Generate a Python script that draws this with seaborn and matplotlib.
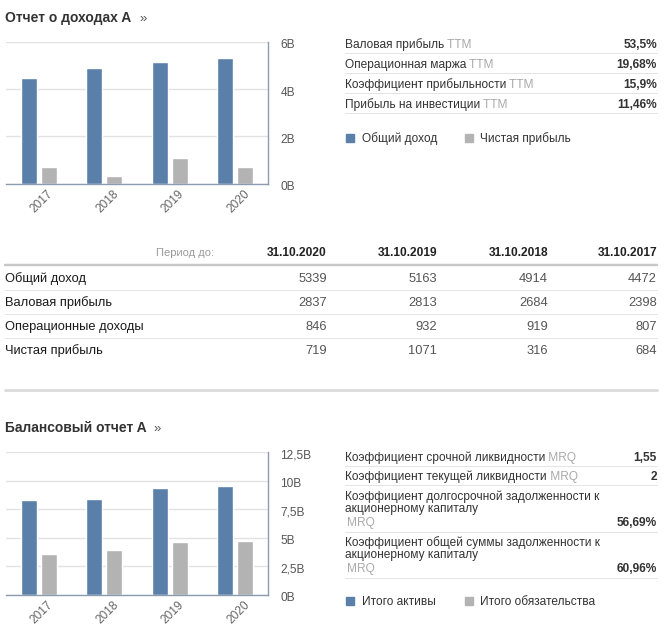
import matplotlib
matplotlib.use("Agg")
import matplotlib.pyplot as plt
from matplotlib.lines import Line2D
from matplotlib.patches import Rectangle
import matplotlib.transforms as mtransforms
import seaborn as sns
import pandas as pd

# ---------------- data ----------------
years = ["2017", "2018", "2019", "2020"]
total_revenue = [4472, 4914, 5163, 5339]          # millions
net_income = [684, 316, 1071, 719]
total_assets = [8300, 8390, 9360, 9560]
total_liabilities = [3550, 3930, 4630, 4720]

income_series = ["Общий доход", "Чистая прибыль"]
balance_series = ["Итого активы", "Итого обязательства"]

income_ticks = [0, 2000, 4000, 6000]
income_tick_labels = ["0B", "2B", "4B", "6B"]
balance_ticks = [0, 2500, 5000, 7500, 10000, 12500]
balance_tick_labels = ["0B", "2,5B", "5B", "7,5B", "10B", "12,5B"]

income_ratio_names = ["Валовая прибыль", "Операционная маржа",
                      "Коэффициент прибыльности", "Прибыль на инвестиции"]
income_ratio_values = ["53,5%", "19,68%", "15,9%", "11,46%"]

balance_ratio_names = [
    ["Коэффициент срочной ликвидности"],
    ["Коэффициент текущей ликвидности"],
    ["Коэффициент долгосрочной задолженности к", "акционерному капиталу"],
    ["Коэффициент общей суммы задолженности к", "акционерному капиталу"],
]
balance_ratio_values = ["1,55", "2", "56,69%", "60,96%"]

periods = ["31.10.2020", "31.10.2019", "31.10.2018", "31.10.2017"]
table_rows = ["Общий доход", "Валовая прибыль", "Операционные доходы", "Чистая прибыль"]
table_values = [
    [5339, 5163, 4914, 4472],
    [2837, 2813, 2684, 2398],
    [846, 932, 919, 807],
    [719, 1071, 316, 684],
]

# ---------------- style ----------------
BLUE = "#5a80aa"
GRAY = "#b3b3b3"
DARK = "#333333"
AXIS = "#8c9bb0"
GRID = "#e2e2e2"
FS = 8.6
TFS = 9.3

sns.set_theme(style="white")
plt.rcParams["font.family"] = ["Liberation Sans", "DejaVu Sans"]

W, H = 671, 641
fig = plt.figure(figsize=(W / 100, H / 100), dpi=100)
fig.patch.set_facecolor("white")


def fx(x):
    return x / W


def fy(y):
    return 1 - y / H


def txt(x, y, s, **kw):
    kw.setdefault("va", "baseline")
    kw.setdefault("color", DARK)
    kw.setdefault("fontsize", FS)
    return fig.text(fx(x), fy(y), s, **kw)


def hline(x0, x1, y, color="#e4e4e4", lw=1.0):
    fig.add_artist(Line2D([fx(x0), fx(x1)], [fy(y), fy(y)],
                          transform=fig.transFigure, color=color, lw=lw * 0.72))


renderer = fig.canvas.get_renderer()


def txt_suffix(x, y, s, suffix, **kw):
    t = txt(x, y, s, **kw)
    bb = t.get_window_extent(renderer)
    fig.text(bb.x1 / fig.bbox.width, fy(y), suffix, va="baseline",
             color="#aaaaaa", fontsize=kw.get("fontsize", FS))
    return t


def make_chart(top, bottom, a, b, series, ticks, tick_labels, ymax):
    ax = fig.add_axes([fx(6), fy(bottom), fx(268) - fx(6), fy(top) - fy(bottom)])
    df = pd.DataFrame({
        "year": years * 2,
        "value": list(a) + list(b),
        "series": [series[0]] * len(years) + [series[1]] * len(years),
    })
    sns.barplot(data=df, x="year", y="value", hue="series", hue_order=series,
                palette=[BLUE, GRAY], width=0.61, gap=0.2, ax=ax,
                saturation=1, legend=False, errorbar=None)
    ax.set_xlim(-0.5, 3.5)
    ax.set_ylim(0, ymax)
    ax.set_xlabel("")
    ax.set_ylabel("")
    ax.yaxis.tick_right()
    ax.set_yticks(ticks)
    ax.set_yticklabels(tick_labels, fontsize=8.6, color="#555555")
    ax.tick_params(axis="y", length=0, pad=9)
    yoff = mtransforms.ScaledTranslation(0, -2 / 100, fig.dpi_scale_trans)
    for lab in ax.get_yticklabels():
        lab.set_transform(lab.get_transform() + yoff)
    ax.set_axisbelow(True)
    ax.grid(axis="y", color=GRID, lw=1)
    for s in ["left", "top"]:
        ax.spines[s].set_visible(False)
    for s in ["right", "bottom"]:
        ax.spines[s].set_color(AXIS)
        ax.spines[s].set_linewidth(1)
    ax.set_xticks(range(len(years)))
    ax.set_xticklabels(years, rotation=45, ha="center", fontsize=8.6, color="#666666")
    ax.tick_params(axis="x", which="major", length=0, pad=3)
    ax.set_xticks([0.5, 1.5, 2.5, 3.5], minor=True)
    ax.tick_params(axis="x", which="minor", length=5, color=AXIS, direction="out", width=1)
    offset = mtransforms.ScaledTranslation(3 / 100, 0, fig.dpi_scale_trans)
    for lab in ax.get_xticklabels():
        lab.set_transform(lab.get_transform() + offset)
    ax.patch.set_alpha(0)
    return ax


# ---------------- income section ----------------
txt(5, 22, "Отчет о доходах A", fontsize=10, fontweight="bold")
txt(140, 22, "»", fontsize=9.5, color="#555555")

make_chart(42, 183.5, total_revenue, net_income, income_series,
           income_ticks, income_tick_labels, 6000)

row_y = [48, 68, 88, 108]
div_y = [52.5, 73, 93, 113]
for name, val, y, d in zip(income_ratio_names, income_ratio_values, row_y, div_y):
    txt_suffix(345, y, name, " TTM")
    txt(657, y, val, ha="right", fontweight="bold")
    hline(345, 657, d)

# legend
fig.add_artist(Rectangle((fx(346), fy(142)), fx(8), 8 / H, transform=fig.transFigure,
                         color=BLUE))
txt(362, 142, income_series[0])
fig.add_artist(Rectangle((fx(465), fy(142)), fx(8), 8 / H, transform=fig.transFigure,
                         color=GRAY))
txt(480, 142, income_series[1])

# ---------------- table ----------------
col_right = [327, 437, 548, 657]
txt(214, 256, "Период до:", ha="right", color="#999999", fontsize=8)
for p, x in zip(periods, col_right):
    txt(x, 256, p, ha="right", fontweight="bold", color="#222222")
hline(5, 657, 265, color="#c8c8c8", lw=2.5)
tr_y = [282, 306, 330, 354]
tr_div = [290, 314, 338]
for i, (name, vals, y) in enumerate(zip(table_rows, table_values, tr_y)):
    txt(5, y, name, color="#1a1a1a", fontsize=TFS)
    for v, x in zip(vals, col_right):
        txt(x, y, str(v), ha="right", color="#555555", fontsize=TFS)
    if i < len(tr_div):
        hline(5, 657, tr_div[i])
hline(5, 657, 390, color="#dddddd", lw=3)

# ---------------- balance section ----------------
txt(5, 432, "Балансовый отчет A", fontsize=10, fontweight="bold")
txt(153, 432, "»", fontsize=9.5, color="#555555")

make_chart(452, 594.5, total_assets, total_liabilities, balance_series,
           balance_ticks, balance_tick_labels, 12500)

# balance ratio table
b_first = [461, 480, 500, 546]
b_div = [466, 485, 532, 578]
for lines, val, y0, d in zip(balance_ratio_names, balance_ratio_values, b_first, b_div):
    if len(lines) == 1:
        txt_suffix(345, y0, lines[0], " MRQ")
        txt(657, y0, val, ha="right", fontweight="bold")
    else:
        txt(345, y0, lines[0])
        txt(345, y0 + 12, lines[1])
        txt(347, y0 + 26, "MRQ", color="#aaaaaa")
        txt(657, y0 + 26, val, ha="right", fontweight="bold")
    hline(345, 657, d)

fig.add_artist(Rectangle((fx(346), fy(605)), fx(8), 8 / H, transform=fig.transFigure,
                         color=BLUE))
txt(362, 605, balance_series[0])
fig.add_artist(Rectangle((fx(465), fy(605)), fx(8), 8 / H, transform=fig.transFigure,
                         color=GRAY))
txt(480, 605, balance_series[1])

fig.savefig("out.png", dpi=100, facecolor="white")
